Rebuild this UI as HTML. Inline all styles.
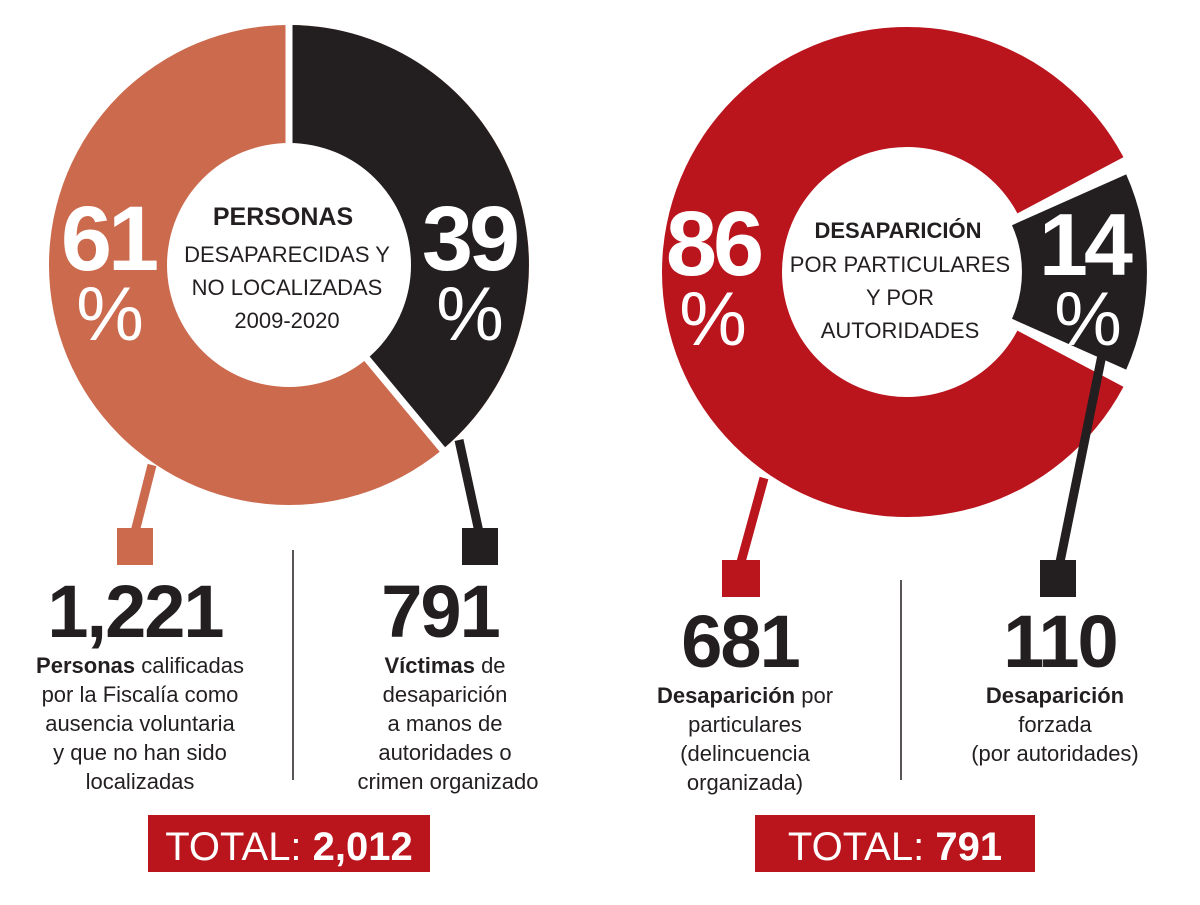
<!DOCTYPE html>
<html><head><meta charset="utf-8"><style>
html,body{margin:0;padding:0;background:#fff;}
svg{display:block;}
text{font-family:"Liberation Sans",sans-serif;}
</style></head><body>
<svg width="1200" height="905" viewBox="0 0 1200 905" xmlns="http://www.w3.org/2000/svg">
<!-- Left donut -->
<circle cx="289" cy="265" r="240" fill="#CC6A4E"/>
<path d="M289,265 L289,25 A240,240 0 0 1 443,449 Z" fill="#231F20"/>
<line x1="289" y1="265" x2="289" y2="20" stroke="#fff" stroke-width="7"/>
<line x1="289" y1="265" x2="447" y2="455" stroke="#fff" stroke-width="7"/>
<circle cx="289" cy="265" r="122" fill="#fff"/>
<line x1="152" y1="465" x2="135" y2="532" stroke="#CC6A4E" stroke-width="9"/>
<rect x="117" y="528" width="36" height="37" fill="#CC6A4E"/>
<line x1="459" y1="440" x2="479" y2="532" stroke="#231F20" stroke-width="9"/>
<rect x="462" y="528" width="36" height="37" fill="#231F20"/>
<!-- Right donut -->
<circle cx="907" cy="272" r="245" fill="#BA141D"/>
<path d="M907,272 L1137,150 L1160,272 L1137,394 Z" fill="#fff"/>
<circle cx="907" cy="272" r="125" fill="#fff"/>
<path d="M1126.2,174.4 A240,240 0 0 1 1126.2,369.6 L1012,318.8 A115,115 0 0 0 1012,225.2 Z" fill="#231F20"/>
<line x1="764" y1="478" x2="741" y2="562" stroke="#BA141D" stroke-width="9"/>
<rect x="722" y="560" width="38" height="37" fill="#BA141D"/>
<line x1="1102" y1="355" x2="1060" y2="562" stroke="#231F20" stroke-width="9"/>
<rect x="1040" y="560" width="36" height="37" fill="#231F20"/>
<!-- left texts -->
<text x="283" y="225" text-anchor="middle" font-size="25" font-weight="bold" fill="#231F20">PERSONAS</text>
<g font-size="22" fill="#231F20" text-anchor="middle">
<text x="287" y="262">DESAPARECIDAS Y</text>
<text x="287" y="295">NO LOCALIZADAS</text>
<text x="287" y="328">2009-2020</text>
</g>
<text x="108" y="270" text-anchor="middle" font-size="92" font-weight="bold" fill="#fff" letter-spacing="-4">61</text>
<text x="110" y="340" text-anchor="middle" font-size="76" fill="#fff">%</text>
<text x="469" y="270" text-anchor="middle" font-size="92" font-weight="bold" fill="#fff" letter-spacing="-4">39</text>
<text x="470" y="340" text-anchor="middle" font-size="76" fill="#fff">%</text>
<!-- right texts -->
<text x="898" y="238" text-anchor="middle" font-size="22" font-weight="bold" fill="#231F20">DESAPARICIÓN</text>
<g font-size="22" fill="#231F20" text-anchor="middle">
<text x="900" y="272">POR PARTICULARES</text>
<text x="900" y="305">Y POR</text>
<text x="900" y="338">AUTORIDADES</text>
</g>
<text x="713" y="275" text-anchor="middle" font-size="92" font-weight="bold" fill="#fff" letter-spacing="-4">86</text>
<text x="713" y="345" text-anchor="middle" font-size="76" fill="#fff">%</text>
<text x="1084" y="275" text-anchor="middle" font-size="88" font-weight="bold" fill="#fff" letter-spacing="-4">14</text>
<text x="1088" y="345" text-anchor="middle" font-size="76" fill="#fff">%</text>
<!-- bottom left -->
<text x="135" y="637" text-anchor="middle" font-size="74" font-weight="bold" fill="#231F20" letter-spacing="-2">1,221</text>
<g font-size="22" fill="#231F20" text-anchor="middle">
<text x="140" y="673"><tspan font-weight="bold">Personas</tspan> calificadas</text>
<text x="140" y="702">por la Fiscalía como</text>
<text x="140" y="731">ausencia voluntaria</text>
<text x="140" y="760">y que no han sido</text>
<text x="140" y="789">localizadas</text>
</g>
<text x="440" y="637" text-anchor="middle" font-size="74" font-weight="bold" fill="#231F20" letter-spacing="-2">791</text>
<g font-size="22" fill="#231F20" text-anchor="middle">
<text x="445" y="673"><tspan font-weight="bold">Víctimas</tspan> de</text>
<text x="445" y="702">desaparición</text>
<text x="445" y="731">a manos de</text>
<text x="445" y="760">autoridades o</text>
<text x="448" y="789">crimen organizado</text>
</g>
<line x1="293" y1="550" x2="293" y2="780" stroke="#231F20" stroke-width="1.5"/>
<rect x="148" y="815" width="282" height="57" fill="#BA141D"/>
<text x="289" y="860" text-anchor="middle" font-size="40" fill="#fff">TOTAL: <tspan font-weight="bold">2,012</tspan></text>
<!-- bottom right -->
<text x="740" y="667" text-anchor="middle" font-size="74" font-weight="bold" fill="#231F20" letter-spacing="-2">681</text>
<g font-size="22" fill="#231F20" text-anchor="middle">
<text x="745" y="703"><tspan font-weight="bold">Desaparición</tspan> por</text>
<text x="745" y="732">particulares</text>
<text x="745" y="761">(delincuencia</text>
<text x="745" y="790">organizada)</text>
</g>
<text x="1060" y="667" text-anchor="middle" font-size="74" font-weight="bold" fill="#231F20" letter-spacing="-2">110</text>
<g font-size="22" fill="#231F20" text-anchor="middle">
<text x="1055" y="703" font-weight="bold">Desaparición</text>
<text x="1055" y="732">forzada</text>
<text x="1055" y="761">(por autoridades)</text>
</g>
<line x1="901" y1="580" x2="901" y2="780" stroke="#231F20" stroke-width="1.5"/>
<rect x="755" y="815" width="280" height="57" fill="#BA141D"/>
<text x="895" y="860" text-anchor="middle" font-size="40" fill="#fff">TOTAL: <tspan font-weight="bold">791</tspan></text>
</svg>
</body></html>
